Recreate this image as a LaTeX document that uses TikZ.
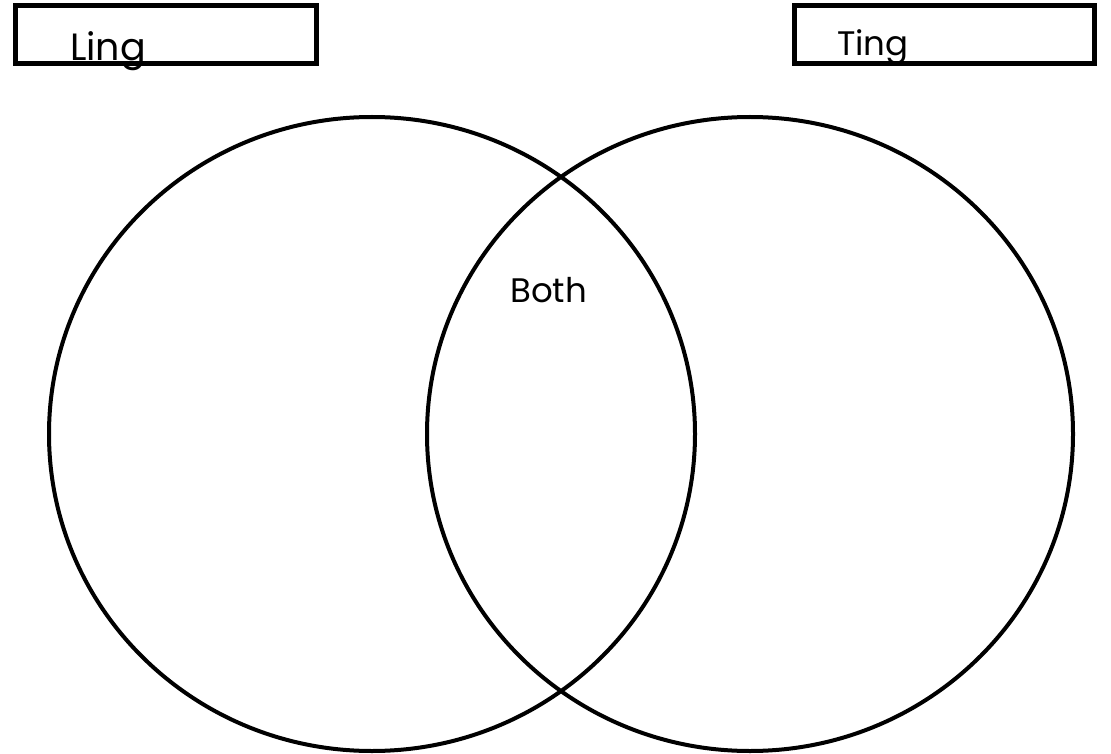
\documentclass[tikz,border=0pt]{standalone}
\usepackage{fontspec}
\setmainfont{Poppins}
\usetikzlibrary{shapes.geometric}
\begin{document}
\begin{tikzpicture}[x=1pt,y=-1pt,
  labelbox/.style={draw=black,line width=5pt},
  ring/.style={draw=black,line width=4pt,ellipse,minimum width=646pt,minimum height=634pt,inner sep=0pt},
  lbl/.style={inner sep=0pt,anchor=base west,font=\fontsize{34}{40}\selectfont}]
\useasboundingbox (0,0) rectangle (1111,754);
\draw[labelbox] (15.5,5.5) rectangle (316.5,63.5);
\draw[labelbox] (794.5,5.5) rectangle (1094.5,63.5);
\node[ring] (left) at (372,434) {};
\node[ring] (right) at (750,434) {};
\node[lbl,font=\fontsize{38}{44}\selectfont] (ling) at (70,61) {Ling};
\node[lbl] (ting) at (837,56) {Ting};
\node[lbl] (both) at (510,302) {Both};
\end{tikzpicture}
\end{document}
